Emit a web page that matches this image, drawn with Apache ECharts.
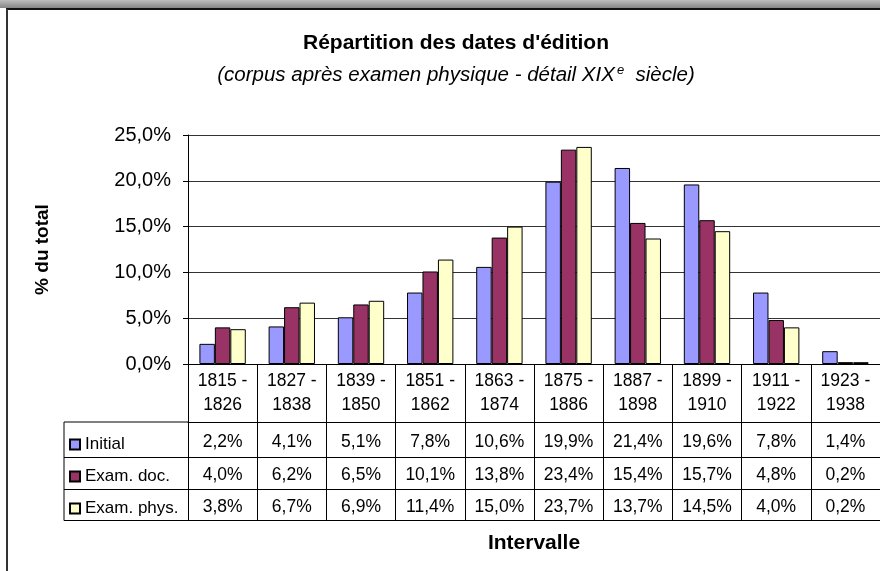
<!DOCTYPE html>
<html>
<head>
<meta charset="utf-8">
<script src="https://cdn.jsdelivr.net/npm/echarts@6/dist/echarts.min.js"></script>
<style>
  html, body { margin: 0; padding: 0; background: #fff; }
  #chart { width: 880px; height: 571px; }
</style>
</head>
<body>
<div id="chart"></div>
<script>
// data
const periodStart = ['1815', '1827', '1839', '1851', '1863', '1875', '1887', '1899', '1911', '1923']
const periodEnd = ['1826', '1838', '1850', '1862', '1874', '1886', '1898', '1910', '1922', '1938']
const initial = [2.2, 4.1, 5.1, 7.8, 10.6, 19.9, 21.4, 19.6, 7.8, 1.4]
const examDoc = [4.0, 6.2, 6.5, 10.1, 13.8, 23.4, 15.4, 15.7, 4.8, 0.2]
const examPhys = [3.8, 6.7, 6.9, 11.4, 15.0, 23.7, 13.7, 14.5, 4.0, 0.2]
const seriesNames = ['Initial', 'Exam. doc.', 'Exam. phys.']
const colors = ['#9999FF', '#993366', '#FFFFCC']

const FONT = 'Liberation Sans'
const pct = v => v.toFixed(1).replace('.', ',') + '%'
const categories = periodStart.map((s, i) => s + ' -\n' + periodEnd[i])

// table layout (offsets below the x axis line at y=364)
const rowTop = [58, 93.5, 125.5]
const rowMargin = [12, 9, 9]
const tableBottom = 156.5
const axisY = 364
const legendLeft = 64
const plotLeft = 188

const chart = echarts.init(document.getElementById('chart'))

const rowAxes = [initial, examDoc, examPhys].map((vals, k) => ({
  type: 'category',
  position: 'bottom',
  offset: rowTop[k],
  data: vals.map(pct),
  axisLine: { show: true, lineStyle: { color: '#000', width: 1 } },
  axisTick: { show: false },
  axisLabel: { interval: 0, margin: rowMargin[k], fontFamily: FONT, fontSize: 17.5, lineHeight: 17, color: '#000' },
  splitLine: { show: false }
}))

const option = {
  animation: false,
  backgroundColor: '#fff',
  textStyle: { fontFamily: FONT },
  title: {
    left: 451,
    top: 27,
    textAlign: 'center',
    text: "Répartition des dates d'édition",
    textStyle: { fontFamily: FONT, fontSize: 21, fontWeight: 'bold', color: '#000', lineHeight: 22 },
    subtext: '{a|(corpus après examen physique - détail XIX}{s|e}{a|  siècle)}',
    subtextStyle: {
      fontFamily: FONT, color: '#000',
      rich: {
        a: { fontFamily: FONT, fontSize: 20.5, fontStyle: 'italic', color: '#000', lineHeight: 22 },
        s: { fontFamily: FONT, fontSize: 13, fontStyle: 'italic', color: '#000', verticalAlign: 'top', lineHeight: 22, padding: [0, 0, 10, 2] }
      }
    },
    itemGap: 10
  },
  legend: {
    orient: 'vertical',
    left: 69,
    top: 436,
    padding: 0,
    itemWidth: 10,
    itemHeight: 10,
    itemGap: 15,
    icon: 'rect',
    selectedMode: false,
    data: seriesNames,
    textStyle: { fontFamily: FONT, fontSize: 17, lineHeight: 17, color: '#000' }
  },
  grid: { left: plotLeft, right: 0, top: 135, bottom: 571 - axisY, containLabel: false },
  xAxis: [
    {
      type: 'category',
      data: categories,
      position: 'bottom',
      axisLine: { show: true, lineStyle: { color: '#000', width: 1 } },
      axisTick: { show: true, interval: 0, length: tableBottom, lineStyle: { color: '#000', width: 1 } },
      axisLabel: { interval: 0, margin: 5, fontFamily: FONT, fontSize: 17.5, lineHeight: 24, color: '#000' },
      splitLine: { show: false }
    },
    ...rowAxes,
    {
      type: 'category',
      position: 'bottom',
      offset: tableBottom,
      data: categories,
      axisLine: { show: true, lineStyle: { color: '#000', width: 1 } },
      axisTick: { show: false },
      axisLabel: { show: false },
      name: 'Intervalle',
      nameLocation: 'middle',
      nameGap: 12,
      nameTextStyle: { fontFamily: FONT, fontSize: 21, fontWeight: 'bold', color: '#000' }
    }
  ],
  yAxis: {
    type: 'value',
    min: 0,
    max: 25,
    interval: 5,
    name: '% du total',
    nameLocation: 'middle',
    nameGap: 136,
    nameRotate: 90,
    nameTextStyle: { fontFamily: FONT, fontSize: 19, fontWeight: 'bold', color: '#000' },
    axisLine: { show: true, lineStyle: { color: '#000', width: 1 } },
    axisTick: { show: true, length: 5, lineStyle: { color: '#000' } },
    axisLabel: { formatter: v => pct(v), margin: 17, fontFamily: FONT, fontSize: 20, color: '#000' },
    splitLine: { show: true, lineStyle: { color: '#333', width: 1 } }
  },
  series: [initial, examDoc, examPhys].map((vals, k) => ({
    name: seriesNames[k],
    type: 'bar',
    xAxisIndex: 0,
    data: vals,
    barGap: '0%',
    barCategoryGap: '33%',
    itemStyle: { color: colors[k], borderColor: '#000', borderWidth: 1 }
  })),
  graphic: [
    // window shadow band and frame
    {
      type: 'rect', shape: { x: 0, y: 0, width: 880, height: 8 },
      style: { fill: new echarts.graphic.LinearGradient(0, 0, 0, 1, [{ offset: 0, color: '#bdbdbd' }, { offset: 1, color: '#858585' }]) },
      silent: true
    },
    { type: 'line', shape: { x1: 6, y1: 9, x2: 880, y2: 9 }, style: { stroke: '#111', lineWidth: 2 }, silent: true },
    { type: 'line', shape: { x1: 7, y1: 9, x2: 7, y2: 571 }, style: { stroke: '#333', lineWidth: 2 }, silent: true },
    // legend column borders of the data table
    ...[58, 93.5, 125.5, tableBottom].map(o => ({
      type: 'line', silent: true,
      shape: { x1: legendLeft, y1: axisY + o, x2: plotLeft, y2: axisY + o },
      style: { stroke: '#000', lineWidth: 1 }
    })),
    {
      type: 'line', silent: true,
      shape: { x1: legendLeft, y1: axisY + 58, x2: legendLeft, y2: axisY + tableBottom },
      style: { stroke: '#000', lineWidth: 1 }
    }
  ]
}

chart.setOption(option)
</script>
</body>
</html>
